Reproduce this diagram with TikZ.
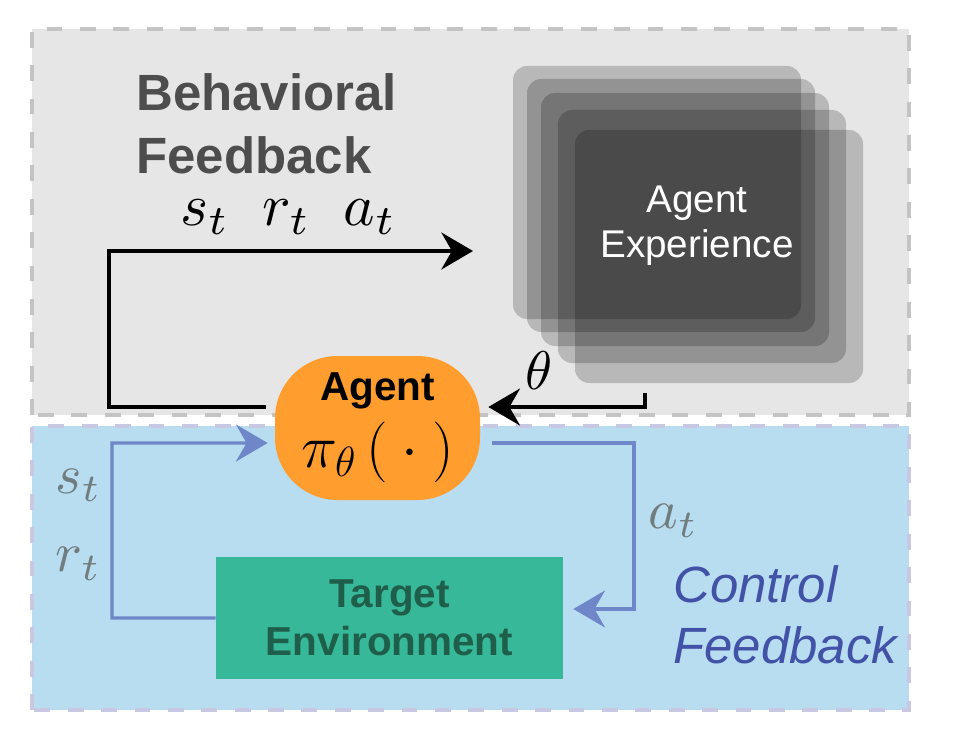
\documentclass[tikz,border=0pt]{standalone}
\usepackage{graphicx}
\usepackage{fontspec}
\setsansfont{Liberation Sans}
\usetikzlibrary{calc,arrows.meta}
\tikzset{>={Stealth[length=18pt,width=21pt,inset=6pt]}}
\definecolor{bgray}{HTML}{E6E6E6}
\definecolor{dgray}{HTML}{C4C4C4}
\definecolor{bblue}{HTML}{B8DDF0}
\definecolor{dblue}{HTML}{C9C8E3}
\definecolor{aorange}{HTML}{FF9E2E}
\definecolor{egreen}{HTML}{37B898}
\definecolor{etext}{HTML}{1F5E4A}
\definecolor{fblue}{HTML}{6F86C8}
\definecolor{cblue}{HTML}{4252A6}
\definecolor{lgray}{HTML}{717C7E}
\definecolor{tgray}{HTML}{4D4D4D}
\newcommand\mth[2]{\scalebox{#1}{$#2$}}

\begin{document}
\begin{tikzpicture}[
  blk/.style={line width=2.1pt,->},
  blu/.style={line width=1.9pt,->,fblue},
  var/.style={text=lgray},
  zone/.style={line width=1.8pt,dash pattern=on 9pt off 10pt}]
\useasboundingbox (0,0) rectangle (19.32,14.8);
\draw[zone,draw=dgray,fill=bgray] (.64,6.5) rectangle (18.18,14.22);
\draw[zone,draw=dblue,fill=bblue] (.64,.6) rectangle (18.18,6.28);
\foreach \x/\y in {10.26/8.42,10.54/8.16,10.82/7.88,11.16/7.54,11.5/7.14}
  \fill[black,fill opacity=.2,rounded corners=8pt] (\x,\y) rectangle +(5.76,5.06);
\node[text=white,align=center,font=\sffamily\fontsize{22}{25.6}\selectfont] (exp) at (13.94,10.29) {Agent\\Experience};
\node[anchor=west,inner sep=0,align=left,text=tgray,font=\sffamily\bfseries\fontsize{29}{36}\selectfont] (beh) at (2.72,12.32) {Behavioral\\Feedback};
\node[anchor=west,inner sep=0,align=left,text=cblue,font=\sffamily\itshape\fontsize{29}{34.7}\selectfont] (ctl) at (13.46,2.5) {Control\\Feedback};
\node[fill=aorange,rounded corners=1.25cm,minimum width=4.1cm,minimum height=2.88cm,align=center,font=\sffamily\bfseries\fontsize{23}{38}\selectfont] (agent) at (7.55,6.24) {Agent\\\mth{1.39}{\pi_\theta\,\big(\cdot\big)}};
\node[fill=egreen,minimum width=6.94cm,minimum height=2.44cm,align=center,text=etext,font=\sffamily\bfseries\fontsize{23}{27}\selectfont] (env) at (7.79,2.44) {Target\\Environment};
\coordinate (sra) at (9.46,9.78);
\coordinate (th) at (12.9,6.94);
\draw[blk] ($(agent.west)+(-.18,.42)$) -| (2.18,9.78) -- (sra);
\draw[blk] (th) |- ($(agent.east)+(.16,.42)$);
\draw[blu] ($(agent.east)+(.24,-.3)$) -| (12.68,2.62) -- ($(env.east)+(.2,.18)$);
\draw[blu] (env.west) -| (2.24,5.94) -- ($(agent.west)+(-.14,-.3)$);
\node (obs) at (5.77,10.45) {\mth{3.4}{s_t\;\; r_t\;\; a_t}};
\node (par) at (10.78,7.39) {\mth{3.1}{\theta}};
\node[var] (st) at (1.57,5.09) {\mth{3.2}{s_t}};
\node[var] (rt) at (1.57,3.52) {\mth{3.2}{r_t}};
\node[var] (at) at (13.47,4.38) {\mth{3.2}{a_t}};
\end{tikzpicture}
\end{document}
